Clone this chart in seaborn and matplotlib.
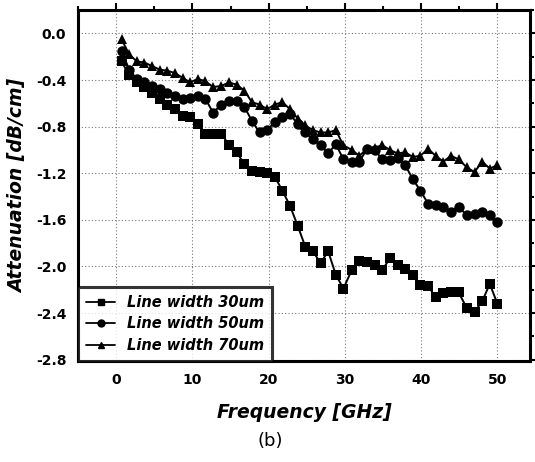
import numpy as np
import pandas as pd
import matplotlib
matplotlib.use("Agg")
import matplotlib.pyplot as plt
import seaborn as sns
from matplotlib.ticker import MultipleLocator
from matplotlib.lines import Line2D

freq = [0.7, 1.7, 2.7, 3.7, 4.7, 5.7, 6.7, 7.7, 8.7, 9.7,
        10.7, 11.7, 12.7, 13.8, 14.8, 15.8, 16.8, 17.8, 18.8, 19.8,
        20.8, 21.8, 22.8, 23.8, 24.8, 25.8, 26.8, 27.8, 28.8, 29.8,
        30.9, 31.9, 32.9, 33.9, 34.9, 35.9, 36.9, 37.9, 38.9, 39.9,
        40.9, 41.9, 42.9, 43.9, 44.9, 46.0, 47.0, 48.0, 49.0, 50.0]

att_30um = [-0.24, -0.36, -0.42, -0.46, -0.51, -0.56, -0.61, -0.65, -0.71, -0.72,
            -0.78, -0.86, -0.86, -0.86, -0.96, -1.02, -1.12, -1.18, -1.19, -1.20,
            -1.23, -1.35, -1.48, -1.65, -1.83, -1.87, -1.97, -1.87, -2.07, -2.19,
            -2.03, -1.95, -1.96, -1.99, -2.03, -1.93, -1.99, -2.02, -2.07, -2.16,
            -2.17, -2.26, -2.23, -2.22, -2.22, -2.36, -2.39, -2.30, -2.15, -2.32]

att_50um = [-0.15, -0.31, -0.39, -0.42, -0.45, -0.48, -0.51, -0.54, -0.56, -0.55,
            -0.54, -0.56, -0.68, -0.61, -0.58, -0.58, -0.63, -0.75, -0.85, -0.83,
            -0.76, -0.72, -0.69, -0.78, -0.85, -0.91, -0.96, -1.03, -0.95, -1.08,
            -1.10, -1.10, -0.99, -1.00, -1.08, -1.09, -1.07, -1.13, -1.25, -1.35,
            -1.46, -1.47, -1.49, -1.53, -1.49, -1.56, -1.55, -1.53, -1.56, -1.62]

att_70um = [-0.05, -0.18, -0.24, -0.25, -0.28, -0.31, -0.32, -0.34, -0.38, -0.42,
            -0.39, -0.41, -0.46, -0.45, -0.42, -0.44, -0.49, -0.59, -0.61, -0.65,
            -0.61, -0.59, -0.65, -0.73, -0.79, -0.83, -0.85, -0.85, -0.83, -0.96,
            -1.00, -1.05, -0.99, -0.98, -0.96, -1.00, -1.03, -1.02, -1.06, -1.05,
            -0.99, -1.05, -1.10, -1.05, -1.08, -1.15, -1.19, -1.10, -1.16, -1.13]

labels = ["Line width 30um", "Line width 50um", "Line width 70um"]
x_ticks = [0, 10, 20, 30, 40, 50]
y_ticks = [0.0, -0.4, -0.8, -1.2, -1.6, -2.0, -2.4, -2.8]

df = pd.concat([
    pd.DataFrame({"freq": freq, "att": att_30um, "series": labels[0]}),
    pd.DataFrame({"freq": freq, "att": att_50um, "series": labels[1]}),
    pd.DataFrame({"freq": freq, "att": att_70um, "series": labels[2]}),
])

sns.set_style("white")
plt.rcParams['font.family'] = ['DejaVu Sans']
plt.rcParams['text.color'] = 'black'
plt.rcParams['axes.labelcolor'] = 'black'
plt.rcParams['xtick.color'] = 'black'
plt.rcParams['ytick.color'] = 'black'

fig = plt.figure(figsize=(5.35, 4.62), dpi=100)
ax = fig.add_axes([0.146, 0.219, 0.845, 0.759])

sns.lineplot(data=df, x="freq", y="att", style="series", markers=["s", "o", "^"],
             dashes=False, color="black", markersize=7.5, markeredgewidth=0,
             linewidth=1.4, ax=ax, legend=False, sort=False)

ax.set_xlim(-5, 54.3)
ax.set_ylim(-2.81, 0.2)
ax.set_xticks(x_ticks)
ax.set_xticklabels([str(t) for t in x_ticks], fontweight="bold", fontsize=10)
ax.set_yticks(y_ticks)
ax.set_yticklabels([f"{t:.1f}" for t in y_ticks], fontweight="bold", fontsize=10)
ax.xaxis.set_minor_locator(MultipleLocator(5))
ax.yaxis.set_minor_locator(MultipleLocator(0.2))
ax.grid(True, which="major", linestyle=(0, (1, 2)), color="#777777", linewidth=0.8)
for s in ax.spines.values():
    s.set_linewidth(2.2)
    s.set_color("black")
ax.tick_params(which="both", direction="out", color="black", labelcolor="black",
               width=1.5, top=True, right=True)
ax.tick_params(which="major", length=5)
ax.tick_params(which="minor", length=3)

ax.set_xlabel("Frequency [GHz]", fontsize=13.5, fontweight="bold", fontstyle="italic",
              labelpad=12, color="black")
ax.set_ylabel("Attenuation [dB/cm]", fontsize=13.5, fontweight="bold", fontstyle="italic",
              labelpad=6, color="black")

handles = [Line2D([], [], color="black", marker=m, markersize=5, linewidth=1.3)
           for m in ["s", "o", "^"]]
leg = ax.legend(handles, labels, loc="lower left", bbox_to_anchor=(0.0, 0.0),
                prop={"weight": "bold", "style": "italic", "size": 10.5},
                frameon=True, fancybox=False, borderpad=0.55, handlelength=2.0,
                labelspacing=0.45, borderaxespad=0.0)
leg.get_frame().set_edgecolor("black")
leg.get_frame().set_linewidth(2.2)
for t in leg.get_texts():
    t.set_color("black")

fig.text(0.505, 0.035, "(b)", ha="center", fontsize=13, color="black")

fig.savefig("out.png", dpi=100)
